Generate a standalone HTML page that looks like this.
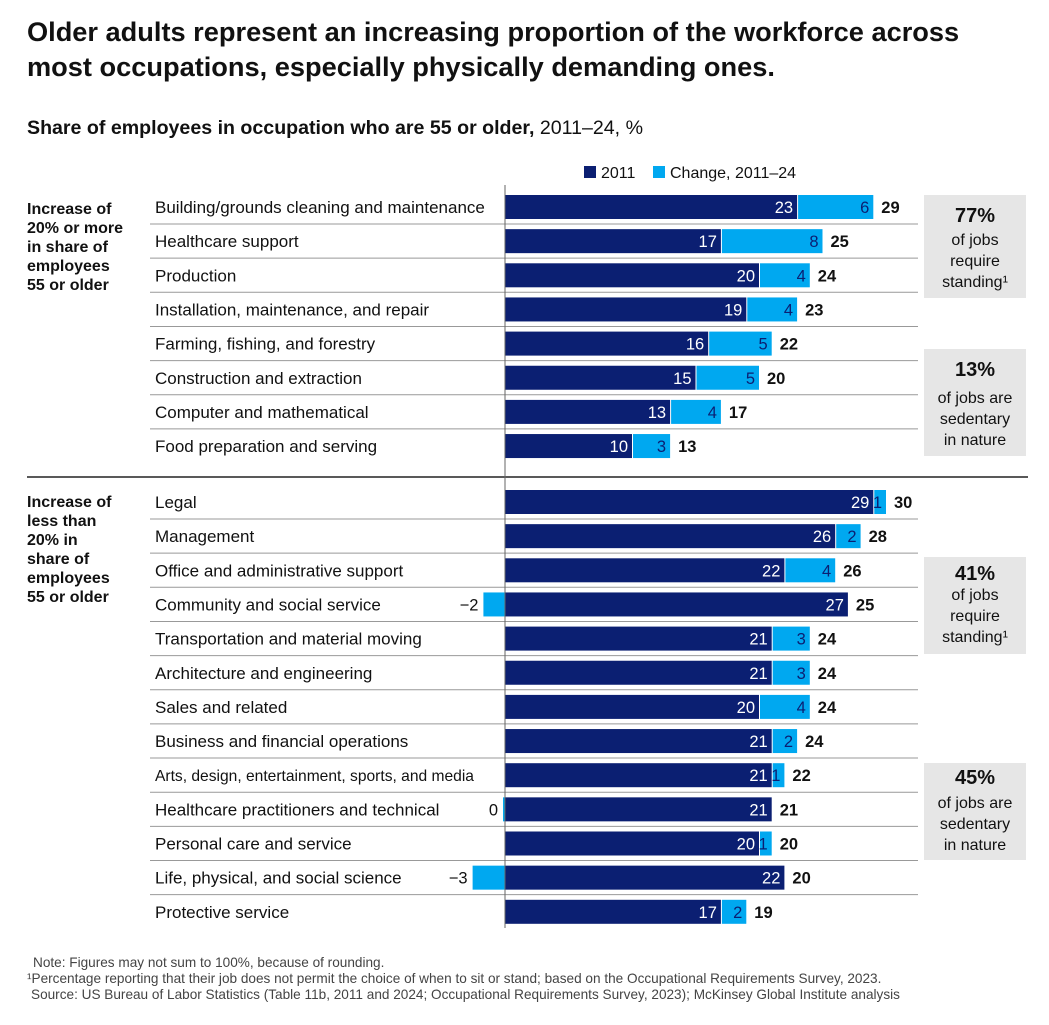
<!DOCTYPE html>
<html><head><meta charset="utf-8"><style>
body{margin:0;background:#fff;width:1049px;height:1020px;overflow:hidden;font-family:"Liberation Sans",sans-serif;}
</style></head><body>
<svg width="1049" height="1020" xmlns="http://www.w3.org/2000/svg" font-family="Liberation Sans, sans-serif">
<text x="27" y="41" font-size="27.2" font-weight="bold" fill="#111">Older adults represent an increasing proportion of the workforce across</text>
<text x="27" y="76" font-size="27.2" font-weight="bold" fill="#111">most occupations, especially physically demanding ones.</text>
<text x="27" y="134" font-size="19.6" fill="#111"><tspan font-weight="bold">Share of employees in occupation who are 55 or older,</tspan> 2011–24, %</text>
<g>
<rect x="584" y="166" width="12" height="12" fill="#0b1f72"/>
<text x="601" y="178" font-size="16" fill="#111">2011</text>
<rect x="653" y="166" width="12" height="12" fill="#00a8f0"/>
<text x="670" y="178" font-size="16" fill="#111">Change, 2011–24</text>
</g>
<g font-size="16" font-weight="bold" fill="#111">
<text x="27" y="214">Increase of</text><text x="27" y="233">20% or more</text><text x="27" y="252">in share of</text><text x="27" y="271">employees</text><text x="27" y="290">55 or older</text>
</g>
<g font-size="16" font-weight="bold" fill="#111">
<text x="27" y="507">Increase of</text><text x="27" y="526">less than</text><text x="27" y="545">20% in</text><text x="27" y="564">share of</text><text x="27" y="583">employees</text><text x="27" y="602">55 or older</text>
</g>
<line x1="27" y1="477" x2="1028" y2="477" stroke="#222" stroke-width="1.5"/>
<g id="bars"></g>
<line x1="505" y1="185" x2="505" y2="928" stroke="#666" stroke-width="1"/>
<g fill="#111" text-anchor="middle">
<rect x="924" y="195" width="102" height="103" fill="#e6e6e6"/>
<text x="975" y="222" font-size="20" font-weight="bold">77%</text><text x="975" y="245" font-size="16">of jobs</text><text x="975" y="266" font-size="16">require</text><text x="975" y="287" font-size="16">standing¹</text>
<rect x="924" y="349" width="102" height="107" fill="#e6e6e6"/>
<text x="975" y="376" font-size="20" font-weight="bold">13%</text><text x="975" y="403" font-size="16">of jobs are</text><text x="975" y="424" font-size="16">sedentary</text><text x="975" y="445" font-size="16">in nature</text>
<rect x="924" y="557" width="102" height="97" fill="#e6e6e6"/>
<text x="975" y="580" font-size="20" font-weight="bold">41%</text><text x="975" y="600" font-size="16">of jobs</text><text x="975" y="621" font-size="16">require</text><text x="975" y="642" font-size="16">standing¹</text>
<rect x="924" y="763" width="102" height="97" fill="#e6e6e6"/>
<text x="975" y="784" font-size="20" font-weight="bold">45%</text><text x="975" y="808" font-size="16">of jobs are</text><text x="975" y="829" font-size="16">sedentary</text><text x="975" y="850" font-size="16">in nature</text>
</g>
<g font-size="13.6" fill="#444">
<text x="33" y="967">Note: Figures may not sum to 100%, because of rounding.</text>
<text x="27" y="983">¹Percentage reporting that their job does not permit the choice of when to sit or stand; based on the Occupational Requirements Survey, 2023.</text>
<text x="31" y="999">Source: US Bureau of Labor Statistics (Table 11b, 2011 and 2024; Occupational Requirements Survey, 2023); McKinsey Global Institute analysis</text>
</g>
</svg>
<script>
const categories=["Building/grounds cleaning and maintenance","Healthcare support","Production","Installation, maintenance, and repair","Farming, fishing, and forestry","Construction and extraction","Computer and mathematical","Food preparation and serving","Legal","Management","Office and administrative support","Community and social service","Transportation and material moving","Architecture and engineering","Sales and related","Business and financial operations","Arts, design, entertainment, sports, and media","Healthcare practitioners and technical","Personal care and service","Life, physical, and social science","Protective service"];
const base2011=[23,17,20,19,16,15,13,10,29,26,22,27,21,21,20,21,21,21,20,22,17];
const change=[6,8,4,4,5,5,4,3,1,2,4,-2,3,3,4,2,1,0,1,-3,2];
const totals=[29,25,24,23,22,20,17,13,30,28,26,25,24,24,24,24,22,21,20,20,19];
const NS="http://www.w3.org/2000/svg";
const g=document.getElementById('bars');
const X0=505,K=12.7,BH=24;
function xs(v){return X0+v*K;}
function yc(i){return i<8?207+i*34.15:502+(i-8)*34.15;}
function mk(tag,a,txt){const e=document.createElementNS(NS,tag);for(const k in a)e.setAttribute(k,a[k]);if(txt!==undefined)e.textContent=txt;g.appendChild(e);return e;}
categories.forEach((c,i)=>{
 const y=yc(i),b=base2011[i],d=change[i],t=totals[i];
 if(i!==7&&i!==20){const l=mk('line',{x1:150,x2:918,y1:y+17,y2:y+17,stroke:'#999','stroke-width':1});
  
  }
 const lab=mk('text',{x:155,y:y+6,'font-size':c.length>43?15.6:17,fill:'#111'},c);
 
 
 const r1=mk('rect',{x:X0,y:y-BH/2,width:b*K,height:BH,fill:'#0b1f72'});
 
 
 const v1=mk('text',{x:xs(b)-4,y:y+6,'font-size':16.5,fill:'#fff','text-anchor':'end'},b);
 
 
 let end=xs(b);
 if(d>0){
  const r2=mk('rect',{x:xs(b)+1,y:y-BH/2,width:d*K-1,height:BH,fill:'#00a8f0'});
  
  
  const v2=mk('text',{x:xs(b+d)-4,y:y+6,'font-size':16.5,fill:'#0b1f72','text-anchor':'end'},d);
  
  
  end=xs(b+d);
 } else {
  const w=Math.max(-d*K*0.85,2);
  const r2=mk('rect',{x:X0-w,y:y-BH/2,width:w,height:BH,fill:'#00a8f0'});
  
  
  const v2=mk('text',{x:X0-w-5,y:y+6,'font-size':16.5,fill:'#111','text-anchor':'end'},d<0?'−'+(-d):'0');
  
  
 }
 const tv=mk('text',{x:end+8,y:y+6,'font-size':16.5,'font-weight':'bold',fill:'#111'},t);
 
 
});
</script>
</body></html>
